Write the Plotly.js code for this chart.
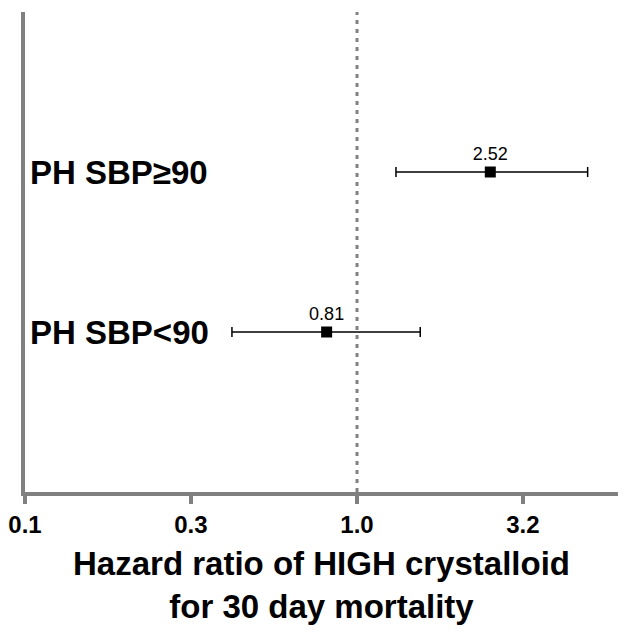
<!DOCTYPE html>
<html>
<head>
<meta charset="utf-8">
<script src="https://cdn.plot.ly/plotly-3.0.1.min.js"></script>
<style>
  html, body { margin: 0; padding: 0; background: #fff; }
  #chart { width: 629px; height: 639px; }
</style>
</head>
<body>
<div id="chart"></div>
<script>
// Subgroups, top to bottom
const groups = ['PH SBP\u226590', 'PH SBP<90'];
const groupPos = [2, 1];
// Hazard ratios with 95% CI
const hr = [2.52, 0.81];
const ciLow = [1.31, 0.42];
const ciHigh = [4.95, 1.55];
const hrLabels = ['2.52', '0.81'];

// X axis ticks (log scale)
const tickVals = [0.1, 0.316, 1, 3.16];
const tickText = ['0.1', '0.3', '1.0', '3.2'];

const axisGray = '#808080';
const font = 'Arial, "Liberation Sans", sans-serif';

const trace = {
    x: hr,
    y: groupPos,
    mode: 'markers+text',
    type: 'scatter',
    text: hrLabels,
    textposition: 'top center',
    textfont: { family: font, size: 18, color: '#000' },
    marker: { symbol: 'square', size: 11, color: '#000' },
    error_x: {
        type: 'data',
        symmetric: false,
        array: hr.map((v, i) => ciHigh[i] - v),
        arrayminus: hr.map((v, i) => v - ciLow[i]),
        color: '#000',
        thickness: 1.5,
        width: 5
    },
    showlegend: false,
    hoverinfo: 'skip'
};

// group names sit just right of the y axis line
const groupAnnotations = groups.map((g, i) => ({
    text: g,
    xref: 'paper', yref: 'y',
    x: 0, y: groupPos[i],
    xanchor: 'left', yanchor: 'middle',
    xshift: 3,
    showarrow: false,
    font: { family: font, size: 33, weight: 'bold', color: '#000' }
}));

const layout = {
    width: 629,
    height: 639,
    margin: { l: 25, r: 11, t: 12, b: 147 },
    paper_bgcolor: '#fff',
    plot_bgcolor: '#fff',
    font: { family: font, color: '#000' },
    xaxis: {
        type: 'log',
        range: [-1, 0.786],
        tickvals: tickVals,
        ticktext: tickText,
        ticks: 'outside',
        ticklen: 8,
        tickwidth: 4,
        tickcolor: axisGray,
        showline: true,
        linewidth: 4,
        linecolor: axisGray,
        showgrid: false,
        zeroline: false,
        tickfont: { family: font, size: 24, weight: 'bold', color: '#000' },
        title: {
            text: 'Hazard ratio of HIGH crystalloid<br>for 30 day mortality',
            font: { family: font, size: 33, weight: 'bold', color: '#000' },
            standoff: 16
        }
    },
    yaxis: {
        range: [0, 3],
        showticklabels: false,
        ticks: '',
        showline: true,
        linewidth: 4,
        linecolor: axisGray,
        showgrid: false,
        zeroline: false
    },
    annotations: groupAnnotations,
    shapes: [{
        type: 'line',
        xref: 'x', yref: 'paper',
        x0: 1, x1: 1, y0: 0, y1: 1,
        line: { color: axisGray, width: 3, dash: '4px,5px' }
    }]
};

Plotly.newPlot('chart', [trace], layout, { displayModeBar: false, staticPlot: true });
</script>
</body>
</html>
